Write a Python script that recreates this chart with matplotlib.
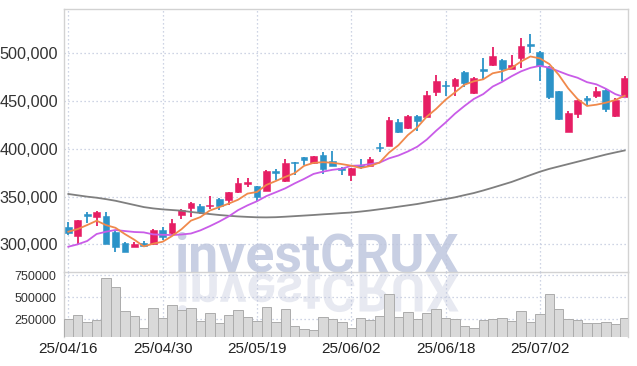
import matplotlib
matplotlib.use('Agg')
import matplotlib.pyplot as plt
import matplotlib.transforms as mtransforms
from matplotlib.textpath import TextPath
from matplotlib.patches import PathPatch
from matplotlib.font_manager import FontProperties

dates = ['25/04/16', '25/04/17', '25/04/18', '25/04/21', '25/04/22', '25/04/23', '25/04/24', '25/04/25',
         '25/04/28', '25/04/29', '25/04/30', '25/05/02', '25/05/07', '25/05/08', '25/05/09', '25/05/12',
         '25/05/13', '25/05/14', '25/05/15', '25/05/16', '25/05/19', '25/05/20', '25/05/21', '25/05/22',
         '25/05/23', '25/05/26', '25/05/27', '25/05/28', '25/05/29', '25/05/30', '25/06/02', '25/06/04',
         '25/06/05', '25/06/09', '25/06/10', '25/06/11', '25/06/12', '25/06/13', '25/06/16', '25/06/17',
         '25/06/18', '25/06/19', '25/06/20', '25/06/23', '25/06/24', '25/06/25', '25/06/26', '25/06/27',
         '25/06/30', '25/07/01', '25/07/02', '25/07/03', '25/07/04', '25/07/07', '25/07/08', '25/07/09',
         '25/07/10', '25/07/11', '25/07/14', '25/07/15']

opens = [317800, 309000, 331700, 328900, 329600, 313200, 301700, 297200, 301700, 300300,
         315000, 312100, 331000, 338000, 340100, 340100, 347400, 346400, 355100, 362800,
         361400, 356100, 377100, 366300, 386500, 391100, 384800, 393500, 386900, 380200,
         372600, 383000, 382300, 401900, 402900, 428100, 421800, 434700, 433600, 459800,
         467100, 466100, 480700, 458100, 483600, 487700, 493000, 483600, 495400, 509400,
         501400, 486000, 460500, 417900, 436400, 452900, 455300, 461600, 434300, 454600]
highs = [323700, 325800, 334100, 334900, 334000, 313900, 302400, 302400, 303100, 315700,
         318400, 326200, 337000, 344600, 341900, 350600, 348000, 355100, 369100, 369100,
         361400, 377800, 378800, 389300, 386500, 391100, 392800, 396300, 398000, 381300,
         379600, 389000, 391700, 405800, 433000, 430900, 435400, 435400, 460800, 477300,
         471000, 473800, 481500, 475200, 495400, 506300, 493700, 498300, 515700, 519900,
         502400, 486700, 460500, 439900, 451100, 455300, 465000, 462600, 453500, 476500]
lows = [309700, 300000, 322600, 319200, 300000, 292300, 291600, 297200, 296900, 299300,
        304600, 309700, 326200, 328900, 331700, 336600, 335900, 341200, 353400, 360300,
        345300, 355800, 367300, 365500, 372600, 383000, 384100, 373600, 382300, 372300,
        366600, 378800, 382000, 396300, 402900, 416200, 420700, 418600, 433000, 455300,
        455300, 455300, 465000, 457400, 472800, 487000, 471300, 483200, 484300, 500000,
        471300, 452500, 430200, 417900, 432600, 444800, 452900, 438800, 433600, 454600]
closes = [311500, 325400, 330000, 333500, 300300, 297500, 292300, 300300, 298500, 315000,
          307300, 322600, 335600, 343600, 333500, 341500, 340100, 354500, 363900, 365500,
          349800, 377100, 375000, 385400, 385100, 388300, 392500, 378800, 382300, 378100,
          379600, 380600, 389300, 400500, 430200, 417900, 434300, 429100, 456600, 471000,
          465800, 473100, 469200, 474500, 481500, 497200, 483200, 487700, 507600, 507900,
          487000, 453900, 431200, 437200, 451100, 451100, 460500, 441700, 451100, 473800]
ma5 = [313200, 316000, 320200, 324700, 320100, 317300, 310700, 304800, 297800, 300700,
       302700, 308700, 315800, 324800, 328500, 335400, 338900, 342600, 346700, 353100,
       354800, 362200, 366300, 370600, 374500, 382200, 385300, 386000, 385400, 384000,
       382300, 379900, 382000, 385600, 396000, 403700, 414400, 422400, 433600, 441800,
       451400, 459100, 467100, 470700, 472800, 479100, 481100, 484800, 491400, 496700,
       494700, 488800, 477500, 463400, 452100, 444900, 446200, 448300, 451100, 455600]
ma10 = [297500, 300000, 303500, 310800, 313200, 315000, 313900, 312900, 312500, 310400,
        310000, 309700, 310300, 311300, 314600, 319000, 323800, 329200, 335800, 340800,
        345100, 350500, 354500, 358600, 363800, 368500, 373700, 376100, 378000, 379200,
        382200, 382600, 384000, 385500, 390000, 393000, 397200, 402200, 409600, 418900,
        427500, 436800, 444800, 452200, 457300, 465200, 470100, 476000, 481100, 484800,
        486900, 485000, 481200, 477400, 474400, 469800, 467500, 462900, 457300, 453900]
ma60 = [352700, 351300, 349900, 348800, 347300, 345600, 343400, 341200, 339000, 337600,
        336600, 335900, 335200, 333900, 332800, 331700, 330700, 329900, 329200, 328700,
        328300, 328200, 328400, 328900, 329500, 330100, 330700, 331400, 332000, 332700,
        333300, 334300, 335400, 336700, 338000, 339400, 340800, 342200, 344000, 345800,
        347400, 349200, 351500, 353700, 356400, 359300, 362300, 365300, 368900, 372500,
        376000, 379000, 381500, 384000, 386500, 389000, 391500, 394000, 396200, 398300]
volumes = [253000, 295000, 220000, 239000, 712000, 610000, 340000, 284000, 149000, 374000,
           261000, 408000, 355000, 374000, 231000, 318000, 205000, 295000, 351000, 273000,
           231000, 392000, 216000, 369000, 178000, 144000, 130000, 273000, 253000, 220000,
           149000, 261000, 242000, 284000, 535000, 276000, 332000, 253000, 321000, 363000,
           261000, 250000, 175000, 149000, 242000, 253000, 261000, 231000, 343000, 220000,
           310000, 535000, 366000, 253000, 242000, 208000, 208000, 220000, 197000, 261000]
price_ticks = [300000, 350000, 400000, 450000, 500000]
volume_ticks = [250000, 500000, 750000]

UP = '#e61e64'
DOWN = '#2c93c8'
GRID = '#bfc6dc'
SPINE = '#d2d2d2'
NARROW = ['Liberation Sans Narrow', 'Liberation Sans', 'DejaVu Sans']
REG = ['Liberation Sans', 'DejaVu Sans']

W, H = 637, 366
fig = plt.figure(figsize=(W / 100, H / 100), dpi=100)
L, R = 64 / W, 628.3 / W
ax = fig.add_axes([L, 1 - 272.3 / H, R - L, (272.3 - 9) / H])
axv = fig.add_axes([L, 1 - 337.3 / H, R - L, (337.3 - 272.3) / H], sharex=ax)
for a in (ax, axv):
    a.set_facecolor('none')
    a.set_axisbelow(True)
    a.grid(True, linestyle=(0, (1, 2.2)), color=GRID, linewidth=0.9)
    a.tick_params(length=0)

n = len(closes)
x = list(range(n))
cols = [UP if c >= o else DOWN for o, c in zip(opens, closes)]
bottoms = [min(o, c) for o, c in zip(opens, closes)]
heights = [max(abs(c - o), 900) for o, c in zip(opens, closes)]
ax.vlines(x, lows, highs, colors=cols, linewidth=1.3, zorder=3)
ax.bar(x, heights, bottom=bottoms, width=0.72, color=cols, edgecolor=cols, linewidth=0.4, zorder=4)
ax.plot(x, ma60, color='#7f7f7f', linewidth=1.3, zorder=5)
ax.plot(x, ma10, color='#c95ce8', linewidth=1.3, zorder=5)
ax.plot(x, ma5, color='#f0894b', linewidth=1.3, zorder=6)

ax.set_xlim(-0.46, 59.38)
ax.set_ylim(270700, 546400)
ax.set_yticks(price_ticks)
ax.set_yticklabels([f'{v:,}' for v in price_ticks], fontfamily=NARROW, fontsize=11.7, color='#333333')
ax.tick_params(axis='y', pad=4.3)
ax.tick_params(axis='x', labelbottom=False)
ax.set_xticks(list(range(0, n, 10)))
for s in ax.spines.values():
    s.set_color(SPINE)
    s.set_linewidth(1)

axv.bar(x, volumes, width=1.0, color='#d9d9d9', edgecolor='#acacac', linewidth=0.7, zorder=3)
axv.set_ylim(46800, 780500)
axv.set_yticks(volume_ticks)
axv.set_yticklabels([str(v) for v in volume_ticks], fontfamily=REG, fontsize=9, color='#333333')
axv.tick_params(axis='y', pad=5.3)
axv.set_xticks(list(range(0, n, 10)))
axv.set_xticklabels([dates[i] for i in range(0, n, 10)], fontfamily=NARROW, fontsize=11, color='#222222')
axv.tick_params(axis='x', pad=3.6)
axv.spines['top'].set_visible(False)
axv.spines['bottom'].set_visible(False)
for k in ('left', 'right'):
    axv.spines[k].set_color(SPINE)
    axv.spines[k].set_linewidth(1)

# watermark with reflection
wm_size = 38.5
wm_prop = FontProperties(family='Roboto', weight='bold')
fig.text(174.5 / W, 1 - 271.7 / H, 'investCRUX', fontsize=wm_size, fontproperties=wm_prop,
         color='#c8cfe3', ha='left', va='baseline', zorder=-2)
tp = TextPath((0, 0), 'investCRUX', size=wm_size, prop=wm_prop)
tr = mtransforms.Affine2D().scale(1 / 72, -1 / 72).translate(175.5 / 100, (H - 273.5) / 100) + fig.dpi_scale_trans
fig.add_artist(PathPatch(tp, transform=tr, facecolor='#e7e9f1', edgecolor='none', zorder=-2))

fig.savefig('out.png', dpi=100)
